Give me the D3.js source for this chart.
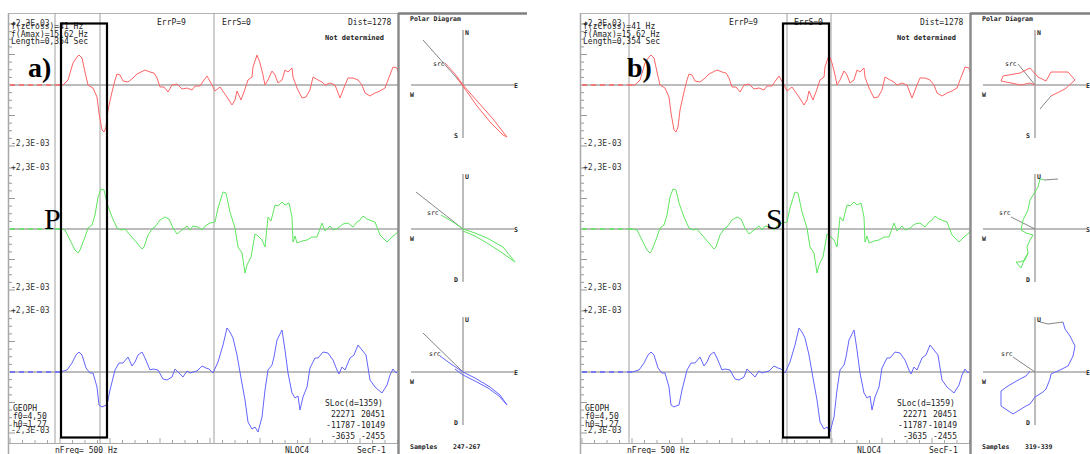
<!DOCTYPE html>
<html>
<head>
<meta charset="utf-8">
<script src="https://cdn.jsdelivr.net/npm/d3@7"></script>
<style>
  body { margin: 0; background: #fff; }
  svg { display: block; font-family: "DejaVu Sans Mono", monospace; }
</style>
</head>
<body>
<svg id="chart" width="1090" height="454"></svg>
<script>
// ==========================
// DATA
// ==========================
// time in ms, amplitude in counts (61 counts = 2,3E-03)
const FS = 61;
const ONSET = 100;

const redTrace = [[0,0],[100,0],[106,0],[116,5],[126,22],[134,28],[138,30],[144,27],[150,13],[156,0],[166,-3],[174,-12],[178,-28],[184,-45],[188,-47],[192,-42],[196,-25],[204,-7],[210,5],[214,11],[220,10],[226,4],[236,3],[246,7],[254,11],[270,15],[280,13],[288,12],[294,7],[300,-2],[308,-2],[316,-7],[324,0],[334,1],[344,-4],[354,-3],[364,-5],[370,-1],[380,-1],[388,5],[394,9],[404,0],[410,-6],[420,-2],[434,-12],[444,-20],[450,-15],[454,-6],[462,-15],[470,-4],[476,5],[484,8],[486,18],[494,30],[500,22],[506,10],[510,0],[516,5],[524,14],[530,10],[536,2],[544,5],[550,15],[556,13],[564,17],[566,8],[574,-3],[584,-13],[592,-12],[600,-5],[606,8],[616,5],[624,3],[630,0],[640,2],[650,0],[660,-13],[670,0],[676,7],[686,7],[696,5],[704,0],[710,-8],[720,-11],[730,-8],[740,-6],[750,-3],[756,5],[766,18],[774,17],[776,13]];

const greenTrace = [[0,0],[100,0],[110,-1],[120,-11],[130,-21],[136,-24],[140,-21],[150,-8],[156,1],[164,4],[170,14],[176,32],[182,40],[188,39],[194,26],[204,12],[214,1],[222,-1],[230,0],[240,-6],[254,-14],[264,-20],[268,-18],[276,-6],[286,1],[290,2],[300,9],[310,12],[318,10],[326,1],[334,-5],[344,-1],[354,3],[360,-1],[366,3],[376,2],[384,-1],[390,3],[400,6],[410,7],[416,21],[426,37],[432,36],[440,17],[450,1],[456,-18],[464,-24],[470,-44],[474,-36],[482,-28],[490,-5],[496,-7],[504,-11],[510,-18],[516,12],[522,8],[530,24],[536,23],[544,27],[550,24],[558,26],[564,12],[566,-13],[570,-7],[574,-14],[584,-12],[594,-11],[604,-8],[614,-8],[624,6],[630,-2],[640,3],[646,-1],[656,1],[666,5],[676,6],[686,2],[694,7],[700,9],[706,13],[714,10],[724,8],[730,7],[740,-6],[754,-13],[764,-8],[774,-4],[776,-1]];

const blueTrace = [[0,0],[100,0],[114,2],[124,9],[132,17],[138,20],[144,17],[152,4],[160,-1],[166,-1],[174,-15],[178,-33],[184,-35],[188,-34],[194,-33],[200,-18],[210,2],[218,9],[226,9],[236,15],[244,6],[250,10],[256,17],[264,20],[270,14],[280,2],[286,3],[296,2],[306,-7],[314,-8],[324,-5],[330,3],[336,0],[346,-5],[354,1],[360,-1],[366,0],[374,1],[384,6],[392,4],[398,3],[406,-1],[416,10],[426,27],[434,44],[440,40],[446,34],[454,17],[462,-6],[470,-28],[476,-50],[484,-57],[490,-55],[496,-60],[504,-45],[510,-18],[516,2],[524,7],[528,15],[534,32],[544,42],[550,22],[556,-1],[564,-21],[570,-26],[576,-24],[580,-38],[586,-25],[594,-15],[600,4],[610,14],[616,14],[626,20],[636,19],[646,12],[654,2],[658,-2],[664,5],[670,2],[680,14],[688,17],[696,27],[704,22],[712,17],[720,-8],[730,-15],[744,-21],[754,-13],[760,-3],[766,3],[772,-1],[776,1]];

// pick markers (ms) and analysis windows (ms)
const markersA = [90, 180, 408];
const markersB = [94, 410, 498];
const windowA = [102, 194];
const windowB = [402, 494];

// polar particle motion (counts, horizontal / vertical component)
const redPolarA = [[-18,22],[-8,11],[0,0],[15,-17],[30,-34],[44,-52],[40,-50],[28,-38],[14,-21],[2,-4],[-6,7]];
const greenPolarA = [[-22,14],[-10,7],[0,0],[12,-4],[24,-9],[40,-18],[52,-33],[38,-23],[24,-14],[12,-7],[0,-2]];
const bluePolarA = [[-23,16],[-12,8],[-3,2],[0,0],[12,-6],[27,-15],[37,-23],[44,-33],[36,-24],[25,-16],[12,-9],[0,-3],[-8,3]];
const srcA = [[[-40,45],[0,0]], [[-47,37],[0,0]], [[-40,39],[0,0]]];
const tailA = [[], [], []];

const redPolarB = [[16,-11],[30,-4],[40,5],[33,13],[16,13],[11,4],[3,8],[-5,17],[-15,12],[-32,9],[-34,4],[-14,0],[-5,2],[0,0]];
const greenPolarB = [[9,49],[5,50],[3,42],[-5,29],[-7,19],[-12,9],[-14,-1],[-9,-4],[-2,-6],[-5,-11],[-8,-18],[-7,-24],[-10,-29],[-14,-39],[-19,-33],[-15,-33],[-10,-31],[-7,-24]];
const bluePolarB = [[28,50],[30,43],[35,36],[40,26],[38,16],[33,6],[25,2],[16,-2],[15,-7],[11,-17],[8,-20],[0,-25],[-5,-32],[-9,-34],[-22,-42],[-34,-34],[-34,-19],[-27,-14],[-15,-7],[-9,-4],[-5,1]];
const srcB = [[[-17,21],[0,0]], [[-24,12],[0,0]], [[-22,15],[0,0]]];
const tailB = [[[5,-24],[16,-11]], [[23,50],[9,49]], [[5,50],[13,48],[28,50]]];

const axisLabels = [["N","E","W","S"], ["U","S","W","D"], ["U","E","W","D"]];
const headerText = ["f(zCross)=41 Hz", "f(Amax)=15,62 Hz", "Length=0,354 Sec"];
const instrText = ["GEOPH", "f0=4,50", "h0=1,27"];
const slocRows = [["22271", "20451"], ["-11787", "-10149"], ["-3635", "-2455"]];

// ==========================
// LAYOUT
// ==========================
const colors = ["#ff6464", "#5ee65e", "#6464ff"];
const traces = [redTrace, greenTrace, blueTrace];
const zeros = [85, 229, 372];

const svg = d3.select("#chart");
const x = d3.scaleLinear().domain([0, 776]).range([10, 398]);
const pol = d3.scaleLinear().domain([-FS, FS]).range([-FS, FS]);

function drawPanel(off, cfg) {
  const g = svg.append("g").attr("transform", `translate(${off},0)`);

  // frame
  g.append("line").attr("x1", 8).attr("x2", 398).attr("y1", 13.5).attr("y2", 13.5)
    .attr("stroke", "#b4b4b4");
  g.append("line").attr("x1", 8.5).attr("x2", 8.5).attr("y1", 13).attr("y2", 454)
    .attr("stroke", "#a8a8a8").attr("stroke-width", 1.5);
  g.append("line").attr("x1", 8).attr("x2", 398).attr("y1", 443.5).attr("y2", 443.5)
    .attr("stroke", "#a8a8a8");
  g.selectAll(".btick").data(d3.range(0, 777, 25)).enter().append("line")
    .attr("x1", d => x(d)).attr("x2", d => x(d))
    .attr("y1", 443).attr("y2", (d, i) => i % 4 === 0 ? 438 : 440)
    .attr("stroke", "#a8a8a8");

  // pick markers
  cfg.markers.forEach(m => {
    g.append("line").attr("x1", x(m)).attr("x2", x(m)).attr("y1", 13).attr("y2", 443)
      .attr("stroke", "#a0a0a0");
  });

  // channels
  traces.forEach((tr, i) => {
    const y = d3.scaleLinear().domain([-FS, FS]).range([zeros[i] + FS, zeros[i] - FS]);

    g.append("line").attr("x1", 10).attr("x2", 398).attr("y1", y(0)).attr("y2", y(0))
      .attr("stroke", "#a6a6a6").attr("stroke-width", 1.5);

    g.selectAll(`.lt${i}`).data(d3.range(-8, 9)).enter().append("line")
      .attr("x1", 9).attr("x2", d => d % 4 === 0 ? 15 : 12)
      .attr("y1", d => y(d * FS / 8)).attr("y2", d => y(d * FS / 8))
      .attr("stroke", "#999");

    const line = d3.line().x(d => x(d[0])).y(d => y(d[1]));
    g.append("path").datum(tr.filter(d => d[0] <= ONSET))
      .attr("d", line).attr("fill", "none").attr("stroke", colors[i])
      .attr("stroke-width", 1.5).attr("stroke-dasharray", "5,4");
    g.append("path").datum(tr.filter(d => d[0] >= ONSET))
      .attr("d", line).attr("fill", "none").attr("stroke", colors[i])
      .attr("stroke-width", 1);

    g.append("text").attr("x", 11).attr("y", y(FS) + 2).attr("font-size", 8)
      .attr("fill", "#333").text("+2,3E-03");
    g.append("text").attr("x", 11).attr("y", y(-FS)).attr("font-size", 8)
      .attr("fill", "#333").text("-2,3E-03");
  });

  // header texts
  headerText.forEach((t, i) => {
    g.append("text").attr("x", 11).attr("y", 29 + i * 7.5).attr("font-size", 8)
      .attr("fill", "#222").text(t);
  });
  g.append("text").attr("x", 157).attr("y", 25).attr("font-size", 8).attr("fill", "#222").text("ErrP=9");
  g.append("text").attr("x", 222).attr("y", 25).attr("font-size", 8).attr("fill", "#222").text("ErrS=0");
  g.append("text").attr("x", 348).attr("y", 25).attr("font-size", 8).attr("fill", "#222").text("Dist=1278");
  g.append("text").attr("x", 325).attr("y", 40).attr("font-size", 7).attr("font-weight", "bold")
    .attr("fill", "#222").text("Not determined");

  // instrument + location texts
  instrText.forEach((t, i) => {
    g.append("text").attr("x", 13).attr("y", 411 + i * 8).attr("font-size", 8)
      .attr("fill", "#222").text(t);
  });
  g.append("text").attr("x", 325).attr("y", 406).attr("font-size", 8).attr("fill", "#222").text("SLoc(d=1359)");
  slocRows.forEach((r, i) => {
    g.append("text").attr("x", 355).attr("y", 417 + i * 11).attr("font-size", 8)
      .attr("text-anchor", "end").attr("fill", "#222").text(r[0]);
    g.append("text").attr("x", 385).attr("y", 417 + i * 11).attr("font-size", 8)
      .attr("text-anchor", "end").attr("fill", "#222").text(r[1]);
  });
  g.append("text").attr("x", 55).attr("y", 453).attr("font-size", 8).attr("fill", "#222").text("nFreq= 500 Hz");
  g.append("text").attr("x", 285).attr("y", 453).attr("font-size", 8).attr("fill", "#222").text("NLOC4");
  g.append("text").attr("x", 357).attr("y", 453).attr("font-size", 8).attr("fill", "#222").text("SecF-1");

  // window box
  g.append("rect").attr("x", x(cfg.window[0])).attr("y", 23.5)
    .attr("width", x(cfg.window[1]) - x(cfg.window[0])).attr("height", 414)
    .attr("fill", "none").attr("stroke", "#000").attr("stroke-width", 2.2);

  // panel letters
  g.append("text").attr("x", cfg.letterX).attr("y", 77).attr("font-family", "'Liberation Serif', serif")
    .attr("font-weight", "bold").attr("font-size", 28).text(cfg.letter);
  g.append("text").attr("x", cfg.pickX).attr("y", 229).attr("font-family", "'Liberation Serif', serif")
    .attr("font-size", 30).text(cfg.pick);

  // ==========================
  // POLAR DIAGRAM
  // ==========================
  const p = g.append("g");
  p.append("line").attr("x1", 398.5).attr("x2", 398.5).attr("y1", 13).attr("y2", 454)
    .attr("stroke", "#8c8c8c").attr("stroke-width", 2.5);
  p.append("line").attr("x1", 398).attr("x2", 527).attr("y1", 13.5).attr("y2", 13.5)
    .attr("stroke", "#808080").attr("stroke-width", 2.5);
  p.append("text").attr("x", 410).attr("y", 21).attr("font-size", 6.5).attr("font-weight", "bold")
    .attr("fill", "#222").text("Polar Diagram");
  p.append("text").attr("x", 410).attr("y", 449).attr("font-size", 6.5).attr("font-weight", "bold")
    .attr("fill", "#222").text("Samples");
  p.append("text").attr("x", 453).attr("y", 449).attr("font-size", 6.5).attr("font-weight", "bold")
    .attr("fill", "#222").text(cfg.samples);

  const pline = d3.line().x(d => pol(d[0])).y(d => -pol(d[1]));
  cfg.polar.forEach((pts, i) => {
    const c = p.append("g").attr("transform", `translate(463,${zeros[i]})`);
    c.append("line").attr("x1", 0).attr("x2", 0).attr("y1", -55).attr("y2", 53)
      .attr("stroke", "#a6a6a6").attr("stroke-width", 1.5);
    c.append("line").attr("x1", -52).attr("x2", 51).attr("y1", 0).attr("y2", 0)
      .attr("stroke", "#a6a6a6").attr("stroke-width", 1.5);
    const lab = axisLabels[i];
    [[lab[0], 2, -50], [lab[1], 51, 3], [lab[2], -53, 12], [lab[3], -9, 53]].forEach(l => {
      c.append("text").attr("x", l[1]).attr("y", l[2]).attr("font-size", 6.5)
        .attr("font-weight", "bold").attr("fill", "#222").text(l[0]);
    });
    c.append("path").datum(cfg.src[i]).attr("d", pline).attr("fill", "none")
      .attr("stroke", "#777").attr("stroke-width", 0.9);
    if (cfg.tail[i].length) {
      c.append("path").datum(cfg.tail[i]).attr("d", pline).attr("fill", "none")
        .attr("stroke", "#777").attr("stroke-width", 0.9);
    }
    c.append("path").datum(pts).attr("d", pline).attr("fill", "none")
      .attr("stroke", colors[i]).attr("stroke-width", 1);
    const so = [[-30, -19], [-36, -14], [-34, -16]][i];
    c.append("text").attr("x", so[0]).attr("y", so[1]).attr("font-size", 6.5)
      .attr("fill", "#222").text("src");
  });
}

drawPanel(0, {
  markers: markersA, window: windowA, letter: "a)", letterX: 28, pick: "P", pickX: 44,
  samples: "247-267", polar: [redPolarA, greenPolarA, bluePolarA], src: srcA, tail: tailA
});
drawPanel(572, {
  markers: markersB, window: windowB, letter: "b)", letterX: 55, pick: "S", pickX: 194,
  samples: "319-339", polar: [redPolarB, greenPolarB, bluePolarB], src: srcB, tail: tailB
});
</script>
</body>
</html>
